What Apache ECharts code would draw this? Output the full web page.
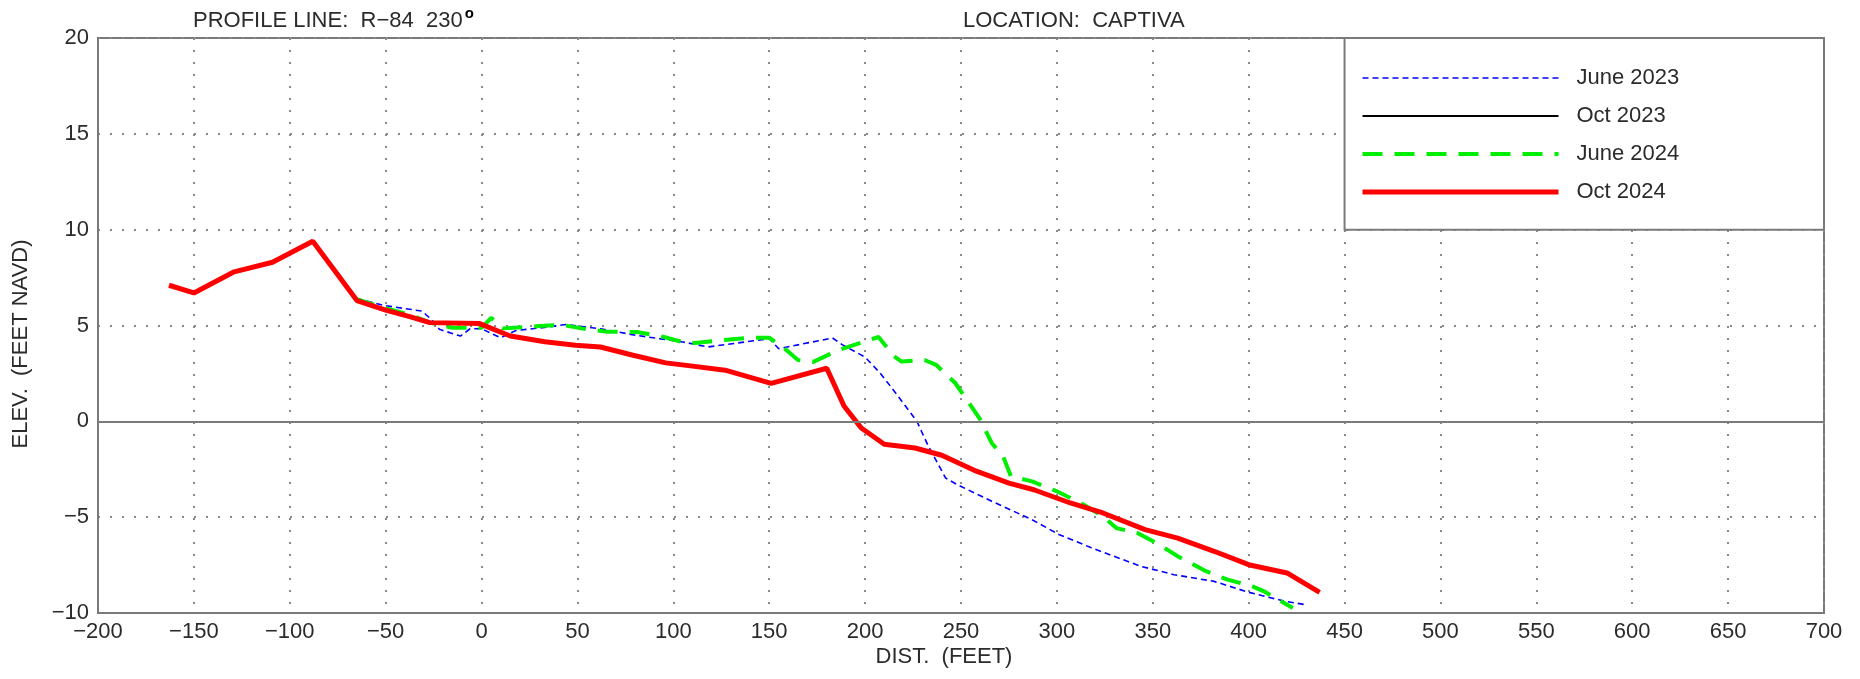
<!DOCTYPE html>
<html>
<head>
<meta charset="utf-8">
<title>Profile Line R-84 – Captiva</title>
<script src="https://cdn.jsdelivr.net/npm/echarts@6/dist/echarts.min.js"></script>
<style>
  html, body { margin: 0; padding: 0; background: #fff; }
  #chart { width: 1860px; height: 679px; }
</style>
</head>
<body>
<div id="chart"></div>
<script>
// Beach profile survey, R-84 monument, Captiva
// Distance from monument (feet) vs elevation (feet NAVD)

const xTicks = { min: -200, max: 700, step: 50 };
const yTicks = { min: -10, max: 20, step: 5 };

const seriesNames = ['June 2023', 'Oct 2023', 'June 2024', 'Oct 2024'];

const june2023 = [
  [-65, 6.4], [-51, 6.05], [-31, 5.75], [-26, 5.3], [-22, 4.8], [-11, 4.45],
  [-6, 4.83], [0, 4.83], [10, 4.36], [18, 4.74], [34, 4.91], [44, 5.05],
  [62, 4.83], [81, 4.48], [105, 4.14], [118, 3.88], [150, 4.31], [155, 3.79],
  [183, 4.35], [188, 4.0], [200, 3.35], [208, 2.5], [215, 1.6], [227, 0],
  [233, -1.3], [242, -2.96], [248, -3.3], [266, -4.17], [287, -5.13],
  [301, -5.9], [318, -6.6], [344, -7.57], [361, -8.0], [382, -8.35],
  [400, -8.92], [419, -9.39], [430, -9.57]
];

const oct2023 = [];

const june2024 = [
  [-66, 6.4], [-50, 5.9], [-37, 5.55], [-27, 5.15], [-15, 4.88], [0, 4.88],
  [5, 5.4], [11, 4.85], [30, 4.97], [42, 5.03], [55, 4.8], [65, 4.68],
  [81, 4.66], [95, 4.4], [108, 4.05], [124, 4.22], [140, 4.36], [150, 4.36],
  [157, 3.88], [165, 3.2], [173, 3.1], [186, 3.71], [199, 4.14], [207, 4.4],
  [215, 3.4], [219, 3.12], [231, 3.2], [237, 2.95], [247, 2.0], [253, 1.13],
  [260, 0.1], [266, -1.13], [272, -1.83], [276, -2.87], [287, -3.13],
  [300, -3.65], [314, -4.35], [324, -4.96], [331, -5.57], [342, -5.83],
  [352, -6.35], [363, -7.04], [378, -7.83], [389, -8.26], [402, -8.61],
  [408, -8.87], [423, -9.74]
];

const oct2024 = [
  [-163, 7.1], [-150, 6.7], [-129, 7.8], [-109, 8.3], [-88, 9.4], [-65, 6.3],
  [-50, 5.8], [-37, 5.45], [-27, 5.15], [-1, 5.1], [15, 4.45], [33, 4.15],
  [49, 3.97], [62, 3.88], [79, 3.45], [96, 3.05], [110, 2.88], [127, 2.67],
  [151, 1.98], [180, 2.77], [189, 0.8], [198, -0.35], [210, -1.2],
  [226, -1.39], [240, -1.77], [258, -2.6], [275, -3.22], [288, -3.57],
  [307, -4.26], [324, -4.78], [346, -5.65], [363, -6.09], [382, -6.78],
  [400, -7.48], [420, -7.91], [437, -8.92]
];

// Legend panel occupies the upper-right corner of the plot (data units)
const legendBox = { x0: 450, x1: 700, y0: 10, y1: 20 };

const FONT = 'Liberation Sans';
const TEXT = '#2b2b2b';
const FRAME = '#7a7a7a';
const DOTS = '#8a8a8a';

const minus = v => String(v).replace('-', '\u2212');

const lineStyles = {
  'June 2023': { color: '#0000ff', width: 1.6, type: [6, 4] },
  'Oct 2023':  { color: '#000000', width: 2,   type: 'solid' },
  'June 2024': { color: '#00ee00', width: 4,   type: [20, 12] },
  'Oct 2024':  { color: '#ff0000', width: 5,   type: 'solid' }
};
const dataByName = {
  'June 2023': june2023,
  'Oct 2023': oct2023,
  'June 2024': june2024,
  'Oct 2024': oct2024
};

const series = seriesNames.map(name => ({
  name,
  type: 'line',
  data: dataByName[name],
  symbol: 'none',
  smooth: false,
  animation: false,
  lineStyle: lineStyles[name],
  itemStyle: { color: lineStyles[name].color }
}));

// zero elevation reference line and the legend panel
series[0].markLine = {
  silent: true,
  symbol: 'none',
  label: { show: false },
  lineStyle: { color: FRAME, width: 2, type: 'solid' },
  data: [{ yAxis: 0 }]
};
series[0].markArea = {
  silent: true,
  itemStyle: { color: '#ffffff', borderColor: FRAME, borderWidth: 2 },
  data: [[
    { xAxis: legendBox.x0, yAxis: legendBox.y0 },
    { xAxis: legendBox.x1, yAxis: legendBox.y1 }
  ]]
};

const chart = echarts.init(document.getElementById('chart'), null, { renderer: 'canvas' });

chart.setOption({
  animation: false,
  backgroundColor: '#ffffff',
  textStyle: { fontFamily: FONT },
  grid: {
    left: 98, right: 36, top: 38, bottom: 66,
    show: true, borderColor: FRAME, borderWidth: 2, backgroundColor: 'transparent'
  },
  xAxis: {
    type: 'value',
    min: xTicks.min, max: xTicks.max, interval: xTicks.step,
    axisLine: { show: true, onZero: false, lineStyle: { color: FRAME, width: 2 } },
    axisTick: { show: false },
    axisLabel: {
      fontSize: 22, color: TEXT, fontFamily: FONT, margin: 8,
      formatter: minus
    },
    splitLine: { show: true, lineStyle: { color: DOTS, width: 2, type: [2, 10] } }
  },
  yAxis: {
    type: 'value',
    min: yTicks.min, max: yTicks.max, interval: yTicks.step,
    axisLine: { show: true, onZero: false, lineStyle: { color: FRAME, width: 2 } },
    axisTick: { show: false },
    axisLabel: {
      fontSize: 22, color: TEXT, fontFamily: FONT, margin: 9,
      padding: [0, 0, 12, 0],
      formatter: minus
    },
    splitLine: { show: true, lineStyle: { color: DOTS, width: 2, type: [2, 10] } }
  },
  legend: {
    orient: 'vertical',
    left: 1355, top: 62,
    itemWidth: 196, itemHeight: 14, itemGap: 16,
    selectedMode: false,
    textStyle: { fontSize: 22, color: TEXT, fontFamily: FONT, padding: [0, 0, 0, 13] },
    data: seriesNames.map(name => ({
      name,
      itemStyle: { color: 'rgba(0,0,0,0)', opacity: 0, borderWidth: 0 },
      lineStyle: {
        width: lineStyles[name].width,
        type: lineStyles[name].type,
        color: lineStyles[name].color
      }
    }))
  },
  graphic: [
    {
      type: 'text', x: 193, y: 21,
      style: {
        text: '{t|PROFILE LINE:  R\u221284  230}{o|o}',
        verticalAlign: 'middle', align: 'left',
        rich: {
          t: { fontSize: 22, fontFamily: FONT, fill: TEXT, color: TEXT },
          o: { fontSize: 15, fontWeight: 'bold', fontFamily: FONT, fill: '#000', color: '#000', verticalAlign: 'top', padding: [0, 0, 14, 2] }
        }
      }
    },
    {
      type: 'text', x: 963, y: 21,
      style: { text: 'LOCATION:  CAPTIVA', fontSize: 22, fontFamily: FONT, fill: TEXT, align: 'left', verticalAlign: 'middle' }
    },
    {
      type: 'text', x: 944, y: 657,
      style: { text: 'DIST.  (FEET)', fontSize: 22, fontFamily: FONT, fill: TEXT, align: 'center', verticalAlign: 'middle' }
    },
    {
      type: 'text', x: 21, y: 344, rotation: Math.PI / 2,
      style: { text: 'ELEV.  (FEET NAVD)', fontSize: 22, fontFamily: FONT, fill: TEXT, align: 'center', verticalAlign: 'middle' }
    }
  ],
  series
});
</script>
</body>
</html>
